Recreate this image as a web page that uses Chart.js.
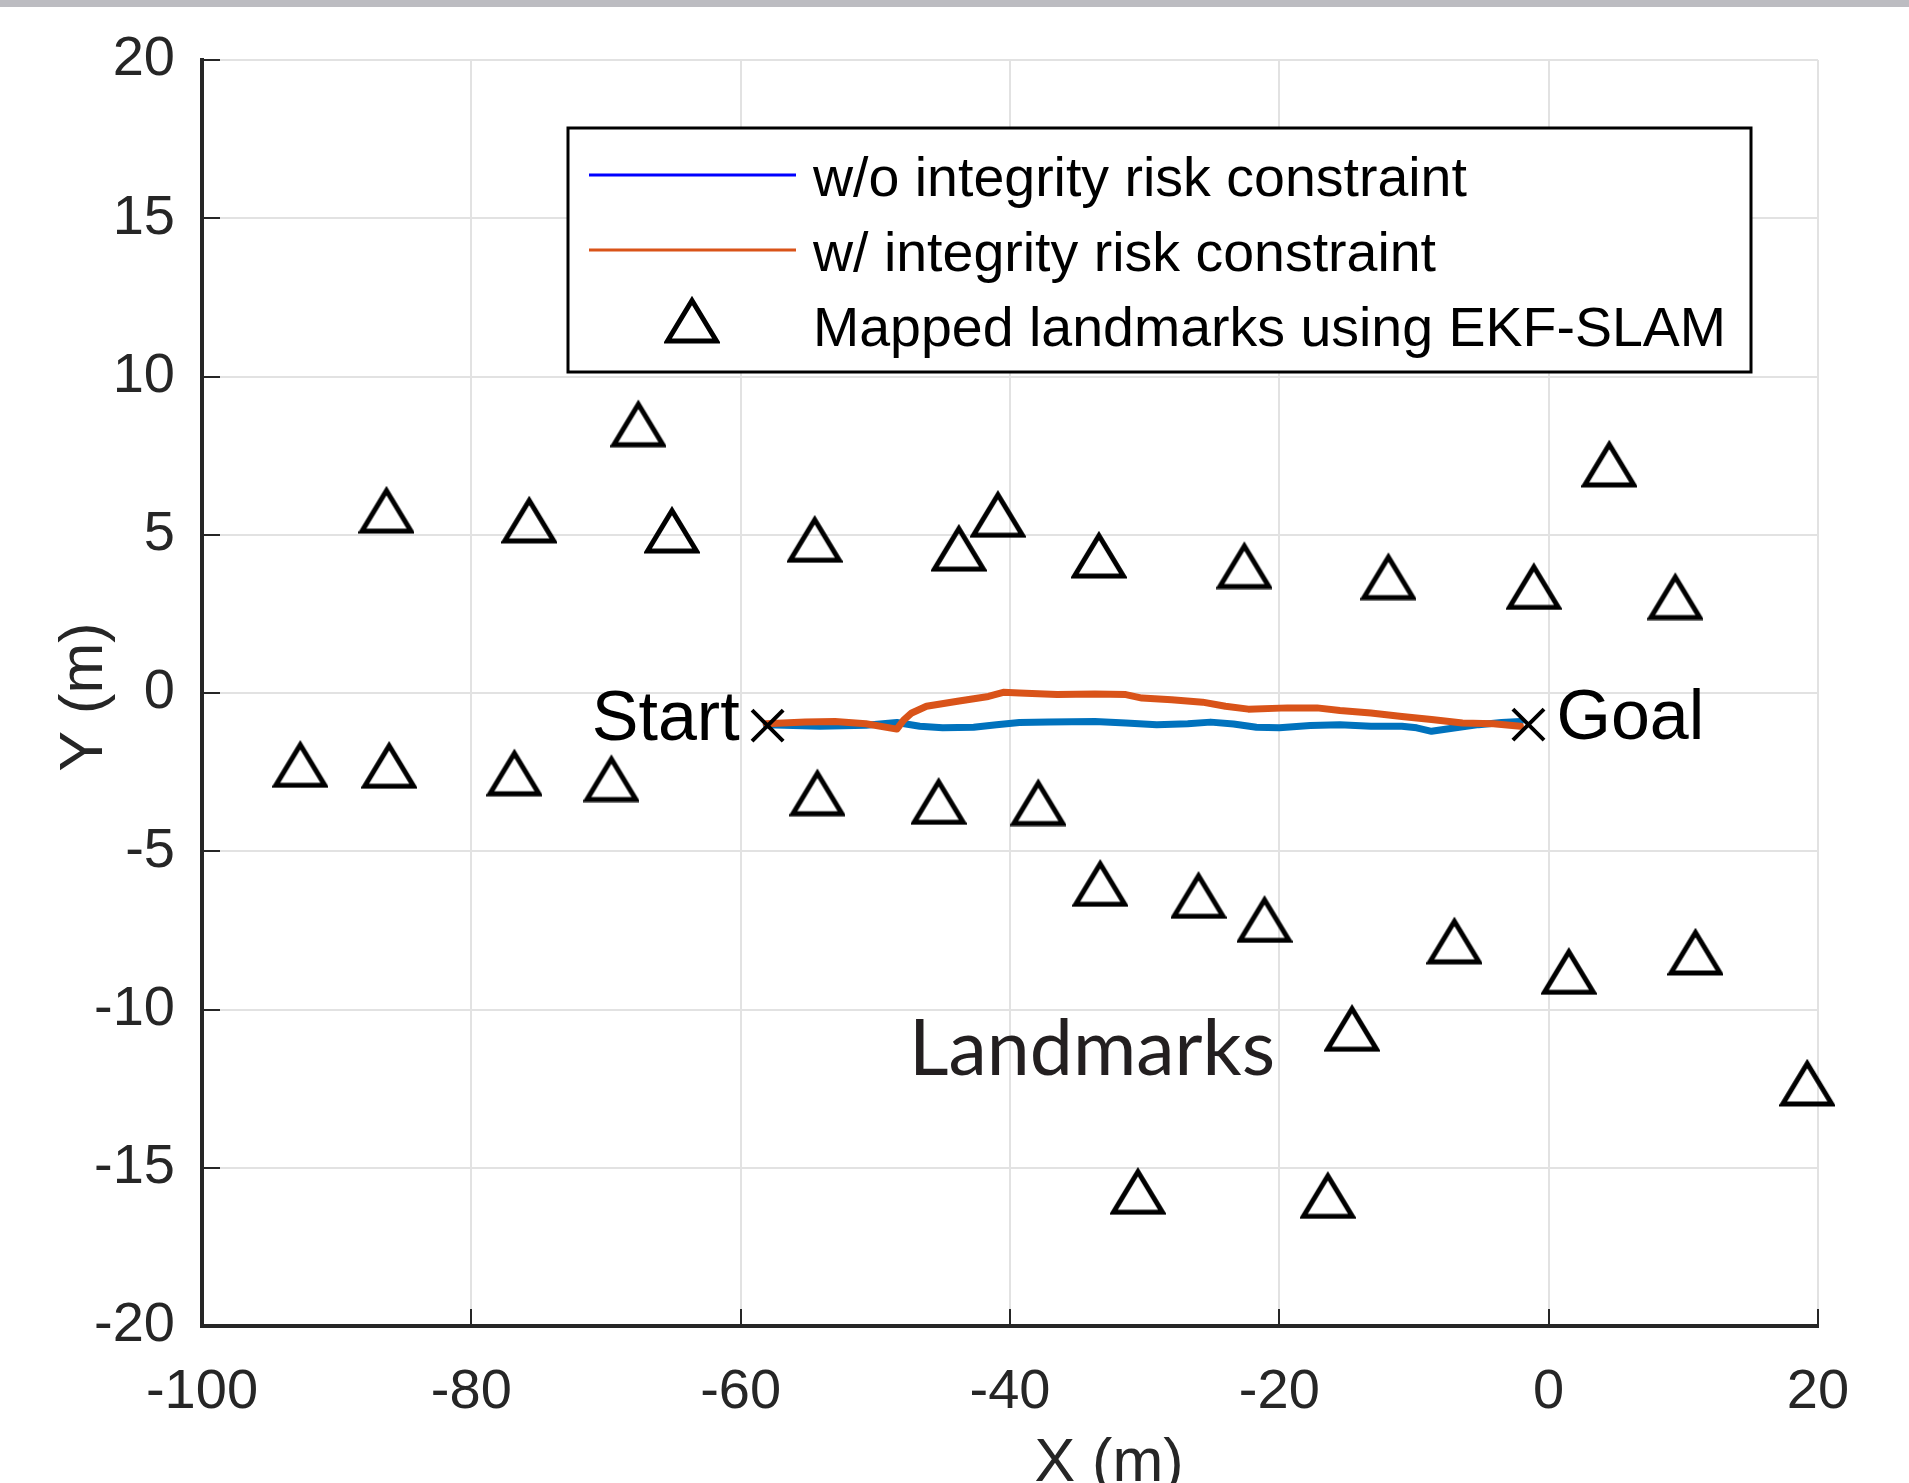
<!DOCTYPE html>
<html>
<head>
<meta charset="utf-8">
<title>EKF-SLAM path</title>
<script src="https://cdn.jsdelivr.net/npm/chart.js@4.4.0/dist/chart.umd.min.js"></script>
<style>
  html, body { margin: 0; padding: 0; background: #fff; }
</style>
</head>
<body>
<canvas id="pathChart" width="1909" height="1483"></canvas>
<script>
// landmarks mapped with EKF-SLAM (m)
const landmarkX = [-67.6, -86.3, -75.7, -65.1, -54.5, -43.8, -40.9, -33.4, -22.6, -11.9, -1.1, 4.5, 9.4,
                   -92.7, -86.1, -76.8, -69.6, -54.3, -45.3, -37.9, -33.3, -26.0, -21.1, -7.0, 1.5, 10.9,
                   -14.6, 19.2, -30.5, -16.4];
const landmarkY = [8.54, 5.81, 5.50, 5.18, 4.89, 4.61, 5.68, 4.39, 4.06, 3.71, 3.40, 7.27, 3.08,
                   -2.22, -2.25, -2.49, -2.67, -3.12, -3.39, -3.43, -5.98, -6.36, -7.12, -7.80, -8.76, -8.15,
                   -10.56, -12.29, -15.71, -15.84];

// path without integrity risk constraint
const woX = [-58.1, -54.1, -50.7, -48.4, -46.7, -45.0, -42.7, -41.0, -39.3, -37.1, -33.7, -31.4, -29.1,
             -26.8, -25.1, -23.4, -21.7, -20.0, -17.7, -15.5, -13.2, -10.9, -9.8, -8.7, -6.9, -5.2, -3.5, -2.1];
const woY = [-1.00, -1.05, -1.02, -0.93, -1.05, -1.10, -1.08, -1.00, -0.93, -0.92, -0.90, -0.95, -1.00,
             -0.97, -0.92, -0.98, -1.08, -1.10, -1.03, -1.00, -1.05, -1.05, -1.10, -1.21, -1.10, -1.00, -0.93, -0.90];

// path with integrity risk constraint
const wX = [-58.1, -55.2, -53.0, -50.7, -48.4, -47.9, -47.3, -46.2, -43.9, -41.6, -40.5, -39.3, -36.5, -33.7,
            -31.4, -30.2, -28.0, -25.7, -24.0, -22.3, -19.4, -17.2, -15.5, -13.2, -10.9, -8.7, -6.4, -4.1, -2.1];
const wY = [-0.97, -0.92, -0.90, -0.97, -1.14, -0.86, -0.63, -0.42, -0.26, -0.11, 0.02, 0.00, -0.05, -0.03,
            -0.05, -0.16, -0.21, -0.29, -0.42, -0.51, -0.47, -0.47, -0.55, -0.63, -0.74, -0.84, -0.95, -0.97, -1.05];

// start and goal
const endX = [-58.0, -1.5];
const endY = [-1.03, -1.0];
const endNames = ['Start', 'Goal'];

const xTicks = [-100, -80, -60, -40, -20, 0, 20];
const yTicks = [-20, -15, -10, -5, 0, 5, 10, 15, 20];

const legendLabels = ['w/o integrity risk constraint', 'w/ integrity risk constraint', 'Mapped landmarks using EKF-SLAM'];
const areaLabel = 'Landmarks';
const areaLabelAt = [-47.5, -12.07];
const xTitle = 'X (m)';
const yTitle = 'Y (m)';

const axisColor = '#262626';
const sansFamily = '"Liberation Sans", Arial, sans-serif';

function makeTriangle() {
    const c = document.createElement('canvas');
    c.width = 56;
    c.height = 50;
    const g = c.getContext('2d');
    g.strokeStyle = '#000';
    g.lineWidth = 5;
    g.lineJoin = 'miter';
    g.beginPath();
    g.moveTo(28, 6.5);
    g.lineTo(3.5, 47);
    g.lineTo(52.5, 47);
    g.closePath();
    g.stroke();
    return c;
}

const triangle = makeTriangle();

const toPoints = (xs, ys) => xs.map((x, i) => ({ x: x, y: ys[i] }));

const matlabLook = {
    id: 'matlabLook',
    beforeDraw(chart) {
        const ctx = chart.ctx;
        ctx.save();
        ctx.fillStyle = '#fff';
        ctx.fillRect(0, 0, chart.width, chart.height);
        ctx.fillStyle = '#bcbcc1';
        ctx.fillRect(0, 0, chart.width, 7);
        ctx.restore();
    },
    afterDatasetsDraw(chart) {
        // inward ticks like matlab
        const ctx = chart.ctx;
        const area = chart.chartArea;
        const xs = chart.scales.x, ys = chart.scales.y;
        ctx.save();
        ctx.strokeStyle = axisColor;
        ctx.lineWidth = 2;
        ctx.beginPath();
        xTicks.forEach(v => {
            const px = Math.round(xs.getPixelForValue(v));
            ctx.moveTo(px, area.bottom);
            ctx.lineTo(px, area.bottom - 17);
        });
        yTicks.forEach(v => {
            const py = Math.round(ys.getPixelForValue(v));
            ctx.moveTo(area.left, py);
            ctx.lineTo(area.left + 18, py);
        });
        ctx.stroke();
        ctx.restore();
    },
    afterDraw(chart) {
        const ctx = chart.ctx;
        const xs = chart.scales.x, ys = chart.scales.y;
        ctx.save();

        // start / goal text
        ctx.fillStyle = '#000';
        ctx.font = '70px ' + sansFamily;
        ctx.textBaseline = 'alphabetic';
        const sx = xs.getPixelForValue(endX[0]), sy = ys.getPixelForValue(endY[0]);
        ctx.textAlign = 'right';
        ctx.fillText(endNames[0], sx - 28, sy + 14);
        const gx = xs.getPixelForValue(endX[1]), gy = ys.getPixelForValue(endY[1]);
        ctx.textAlign = 'left';
        ctx.fillText(endNames[1], gx + 28, gy + 14);

        // landmarks text
        ctx.fillStyle = '#231f20';
        ctx.font = '77px Lato, "Open Sans", sans-serif';
        ctx.fillText(areaLabel, xs.getPixelForValue(areaLabelAt[0]), ys.getPixelForValue(areaLabelAt[1]));

        // axis titles
        ctx.fillStyle = axisColor;
        ctx.font = '61px ' + sansFamily;
        ctx.textAlign = 'center';
        ctx.fillText(xTitle, 1109, 1481);
        ctx.save();
        ctx.translate(102, 697);
        ctx.rotate(-Math.PI / 2);
        ctx.fillText(yTitle, 0, 0);
        ctx.restore();

        // legend box
        const lx = 568, ly = 128, lw = 1183, lh = 244;
        ctx.fillStyle = '#fff';
        ctx.fillRect(lx, ly, lw, lh);
        ctx.strokeStyle = '#000';
        ctx.lineWidth = 3;
        ctx.strokeRect(lx, ly, lw, lh);

        ctx.lineWidth = 3;
        ctx.strokeStyle = '#0000ff';
        ctx.beginPath();
        ctx.moveTo(589, 175);
        ctx.lineTo(796, 175);
        ctx.stroke();
        ctx.strokeStyle = '#d95319';
        ctx.beginPath();
        ctx.moveTo(589, 250);
        ctx.lineTo(796, 250);
        ctx.stroke();
        ctx.drawImage(triangle, 692 - 28, 319 - 25);

        ctx.fillStyle = '#000';
        ctx.font = '55.5px ' + sansFamily;
        ctx.textAlign = 'left';
        ctx.fillText(legendLabels[0], 813, 196);
        ctx.fillText(legendLabels[1], 813, 271);
        ctx.fillText(legendLabels[2], 813, 346);

        ctx.restore();
    }
};

class PathChart {
    constructor() {
        this.$canvas = document.querySelector('#pathChart');
        this.draw();
    }

    draw() {
        const data = {
            datasets: [{
                label: 'Start/Goal',
                data: toPoints(endX, endY),
                pointStyle: 'crossRot',
                pointRadius: 22,
                borderColor: '#000',
                backgroundColor: 'rgba(0,0,0,0)',
                borderWidth: 4,
                order: 0,
                clip: false
            }, {
                label: legendLabels[2],
                data: toPoints(landmarkX, landmarkY),
                pointStyle: triangle,
                pointRadius: 28,
                order: 1,
                clip: false
            }, {
                label: legendLabels[1],
                data: toPoints(wX, wY),
                showLine: true,
                borderColor: '#d95319',
                borderWidth: 7,
                borderJoinStyle: 'round',
                borderCapStyle: 'round',
                pointRadius: 0,
                order: 2
            }, {
                label: legendLabels[0],
                data: toPoints(woX, woY),
                showLine: true,
                borderColor: '#0072bd',
                borderWidth: 7,
                borderJoinStyle: 'round',
                borderCapStyle: 'round',
                pointRadius: 0,
                order: 3
            }]
        };

        new Chart(this.$canvas, {
            type: 'scatter',
            data,
            options: {
                responsive: false,
                animation: false,
                devicePixelRatio: 1,
                events: [],
                layout: { padding: { top: 60, right: 91, bottom: 0, left: 0 } },
                plugins: {
                    legend: { display: false },
                    tooltip: { enabled: false }
                },
                scales: {
                    x: {
                        type: 'linear',
                        min: xTicks[0],
                        max: xTicks[xTicks.length - 1],
                        afterBuildTicks: s => { s.ticks = xTicks.map(v => ({ value: v })); },
                        afterFit: s => { s.height = 157; s.paddingLeft = 0; s.paddingRight = 0; },
                        grid: { color: '#e2e2e2', lineWidth: 2, drawTicks: false },
                        border: { color: axisColor, width: 4 },
                        ticks: {
                            color: axisColor,
                            font: { family: sansFamily, size: 56 },
                            padding: 33,
                            maxRotation: 0,
                            autoSkip: false
                        }
                    },
                    y: {
                        type: 'linear',
                        min: yTicks[0],
                        max: yTicks[yTicks.length - 1],
                        afterBuildTicks: s => { s.ticks = yTicks.map(v => ({ value: v })); },
                        afterFit: s => { s.width = 202; s.paddingTop = 0; s.paddingBottom = 0; },
                        grid: { color: '#e2e2e2', lineWidth: 2, drawTicks: false },
                        border: { color: axisColor, width: 4 },
                        ticks: {
                            color: axisColor,
                            font: { family: sansFamily, size: 56 },
                            padding: 27,
                            autoSkip: false
                        }
                    }
                }
            },
            plugins: [matlabLook]
        });
    }
}

window.addEventListener('load', () => {
    new PathChart();
});
</script>
</body>
</html>
